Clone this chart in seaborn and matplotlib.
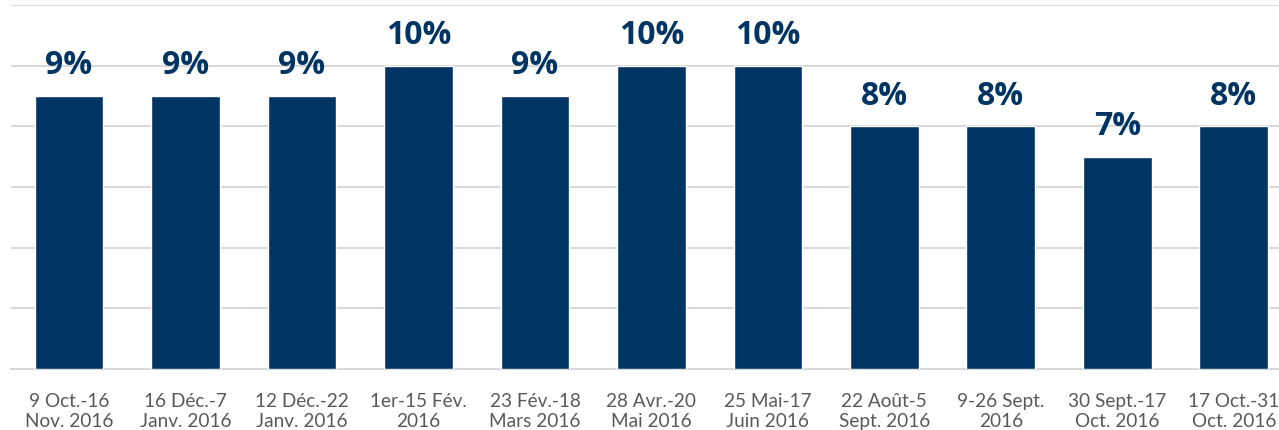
import matplotlib.pyplot as plt
import pandas as pd
import seaborn as sns

# Data
periods = [
    '9 Oct.-16\nNov. 2016', '16 Déc.-7\nJanv. 2016', '12 Déc.-22\nJanv. 2016',
    '1er-15 Fév.\n2016', '23 Fév.-18\nMars 2016', '28 Avr.-20\nMai 2016',
    '25 Mai-17\nJuin 2016', '22 Août-5\nSept. 2016', '9-26 Sept.\n2016',
    '30 Sept.-17\nOct. 2016', '17 Oct.-31\nOct. 2016',
]
values = [9, 9, 9, 10, 9, 10, 10, 8, 8, 7, 8]
value_labels = ['9%', '9%', '9%', '10%', '9%', '10%', '10%', '8%', '8%', '7%', '8%']
y_ticks = [0, 2, 4, 6, 8, 10, 12]

df = pd.DataFrame({'period': periods, 'value': values})

sns.set_style('white')
plt.rcParams['font.family'] = ['Lato', 'DejaVu Sans']

fig = plt.figure(figsize=(12.79, 4.30), dpi=100)
ax = fig.add_axes([0.0084, 0.1419, 1.0018, 0.8465])

sns.barplot(data=df, x='period', y='value', color='#003462', width=0.59,
            saturation=1, ax=ax, zorder=3)

ax.set_ylim(0, 12)
ax.set_yticks(y_ticks)
ax.yaxis.grid(True, color='#d9d9d9', linewidth=1.5, zorder=0)
ax.set_axisbelow(True)
ax.tick_params(axis='y', left=False, labelleft=False)
ax.tick_params(axis='x', bottom=False, pad=14, labelsize=13.7, labelcolor='#595959')
for s in ['top', 'right', 'left']:
    ax.spines[s].set_visible(False)
ax.spines['bottom'].set_color('#d9d9d9')
ax.spines['bottom'].set_linewidth(1.5)
ax.set_xlabel('')
ax.set_ylabel('')

for i, (v, lab) in enumerate(zip(values, value_labels)):
    ax.annotate(lab, (i, v), xytext=(0, 15.5), textcoords='offset points',
                ha='center', va='baseline', fontsize=23, fontweight='bold',
                family='Open Sans', color='#003462')

fig.savefig('out.png', dpi=100)
